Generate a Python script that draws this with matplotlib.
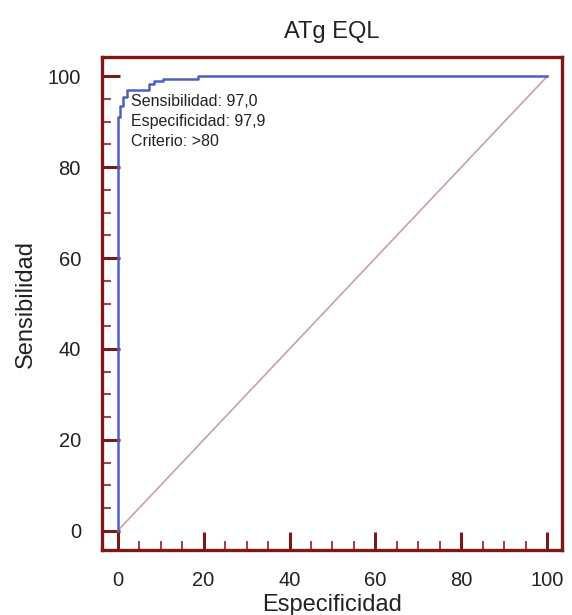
import matplotlib
matplotlib.use("Agg")
import matplotlib.pyplot as plt
from matplotlib.ticker import MultipleLocator

plt.rcParams['font.family'] = ['Liberation Sans', 'DejaVu Sans']

# puntos de la curva ROC (100-especificidad, sensibilidad)
roc_x = [0, 0, 0.6, 1.2, 2.1, 7.3, 8.5, 10.5, 18.6, 100]
roc_y = [0, 91.0, 93.4, 95.4, 97.0, 98.2, 99.0, 99.3, 100, 100]
diag = [0, 100]
ticks = [0, 20, 40, 60, 80, 100]
texto = "Sensibilidad: 97,0\nEspecificidad: 97,9\nCriterio: >80"

rojo = '#7d1818'

fig = plt.figure(figsize=(5.72, 6.15), dpi=100)
ax = fig.add_axes([0.178, 0.106, 0.805, 0.801])

ax.plot(diag, diag, color='#c9a0a3', lw=1.2)
ax.plot(roc_x, roc_y, color='#4f5fc0', lw=1.8, drawstyle='steps-post')

ax.text(3.0, 96.0, texto, fontsize=11.5, va='top', ha='left', linespacing=1.38, color='#222222')

ax.set_xlim(-3.7, 103.5)
ax.set_ylim(-4.2, 104.2)
ax.set_xticks(ticks)
ax.set_yticks(ticks)
ax.xaxis.set_minor_locator(MultipleLocator(5))
ax.yaxis.set_minor_locator(MultipleLocator(5))

ax.tick_params(which='major', direction='in', length=13, width=2.2, color=rojo,
               labelsize=14.5, labelcolor='#222222')
ax.tick_params(axis='y', which='major', pad=15)
ax.tick_params(axis='x', which='major', pad=15)
ax.tick_params(which='minor', direction='in', length=6.5, width=1.5, color='#a04848')

for s in ax.spines.values():
    s.set_color(rojo)
    s.set_linewidth(2.4)

ax.set_title("ATg EQL", fontsize=17, pad=14, color='#222222')
ax.set_xlabel("Especificidad", fontsize=17, labelpad=3, color='#222222')
ax.set_ylabel("Sensibilidad", fontsize=17, labelpad=8, color='#222222')

fig.savefig("out.png", dpi=100)
